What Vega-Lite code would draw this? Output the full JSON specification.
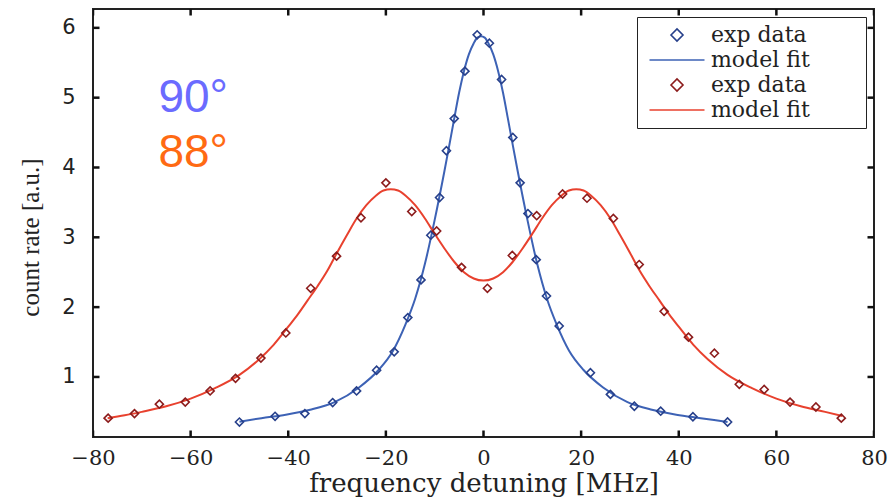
{
  "$schema": "https://vega.github.io/schema/vega-lite/v6.json",
  "width": 781,
  "height": 428,
  "autosize": "none",
  "padding": {"left": 93, "top": 9, "right": 14, "bottom": 61},
  "background": "white",
  "config": {
    "view": {"stroke": "#222222", "strokeWidth": 2},
    "axis": {"domain": false, "ticks": false, "grid": false, "labelColor": "#222222", "titleColor": "#222222", "titleFontWeight": "normal", "labelOverlap": false},
    "tick": {"thickness": 2.5, "size": 13, "color": "#111111", "opacity": 1},
    "legend": {
      "orient": "top-right",
      "offset": 8,
      "padding": 7,
      "symbolSize": 100,
      "symbolOffset": 22,
      "labelOffset": 23,
      "rowPadding": 3,
      "labelFont": "DejaVu Serif",
      "labelFontSize": 22,
      "labelColor": "#222222",
      "labelLimit": 300,
      "strokeColor": "#222222",
      "fillColor": "white",
      "symbolStrokeWidth": 1.6,
      "zindex": 2
    }
  },
  "datasets": {
    "xticks": [{"v": -80}, {"v": -60}, {"v": -40}, {"v": -20}, {"v": 0}, {"v": 20}, {"v": 40}, {"v": 60}, {"v": 80}],
    "yticks": [{"v": 1}, {"v": 2}, {"v": 3}, {"v": 4}, {"v": 5}, {"v": 6}],
    "fit": [
      {"series": "fit90", "x": -50, "y": 0.36},
      {"series": "fit90", "x": -45.5, "y": 0.41},
      {"series": "fit90", "x": -40.5, "y": 0.46},
      {"series": "fit90", "x": -35.5, "y": 0.53},
      {"series": "fit90", "x": -30.5, "y": 0.64},
      {"series": "fit90", "x": -25.5, "y": 0.85},
      {"series": "fit90", "x": -21.5, "y": 1.10},
      {"series": "fit90", "x": -18.5, "y": 1.38},
      {"series": "fit90", "x": -16, "y": 1.75},
      {"series": "fit90", "x": -14, "y": 2.12},
      {"series": "fit90", "x": -12, "y": 2.62},
      {"series": "fit90", "x": -10, "y": 3.25},
      {"series": "fit90", "x": -8, "y": 3.95},
      {"series": "fit90", "x": -7, "y": 4.32},
      {"series": "fit90", "x": -6, "y": 4.70},
      {"series": "fit90", "x": -5, "y": 5.07},
      {"series": "fit90", "x": -4, "y": 5.38},
      {"series": "fit90", "x": -3, "y": 5.62},
      {"series": "fit90", "x": -2, "y": 5.78},
      {"series": "fit90", "x": -1.25, "y": 5.86},
      {"series": "fit90", "x": -0.5, "y": 5.88},
      {"series": "fit90", "x": 0.25, "y": 5.86},
      {"series": "fit90", "x": 1, "y": 5.78},
      {"series": "fit90", "x": 2, "y": 5.62},
      {"series": "fit90", "x": 3, "y": 5.38},
      {"series": "fit90", "x": 4, "y": 5.07},
      {"series": "fit90", "x": 5, "y": 4.70},
      {"series": "fit90", "x": 6, "y": 4.32},
      {"series": "fit90", "x": 7, "y": 3.95},
      {"series": "fit90", "x": 9, "y": 3.25},
      {"series": "fit90", "x": 11, "y": 2.62},
      {"series": "fit90", "x": 13, "y": 2.12},
      {"series": "fit90", "x": 15, "y": 1.75},
      {"series": "fit90", "x": 17.5, "y": 1.38},
      {"series": "fit90", "x": 20.5, "y": 1.10},
      {"series": "fit90", "x": 24.5, "y": 0.85},
      {"series": "fit90", "x": 29.5, "y": 0.64},
      {"series": "fit90", "x": 34.5, "y": 0.53},
      {"series": "fit90", "x": 39.5, "y": 0.46},
      {"series": "fit90", "x": 44.5, "y": 0.41},
      {"series": "fit90", "x": 50, "y": 0.355},
      {"series": "fit88", "x": -77, "y": 0.41},
      {"series": "fit88", "x": -73.5, "y": 0.45},
      {"series": "fit88", "x": -70, "y": 0.50},
      {"series": "fit88", "x": -65, "y": 0.58},
      {"series": "fit88", "x": -60, "y": 0.69},
      {"series": "fit88", "x": -55, "y": 0.84},
      {"series": "fit88", "x": -50, "y": 1.03},
      {"series": "fit88", "x": -46, "y": 1.25},
      {"series": "fit88", "x": -43, "y": 1.46},
      {"series": "fit88", "x": -40, "y": 1.72},
      {"series": "fit88", "x": -38, "y": 1.90},
      {"series": "fit88", "x": -36, "y": 2.10},
      {"series": "fit88", "x": -34, "y": 2.30},
      {"series": "fit88", "x": -32, "y": 2.52},
      {"series": "fit88", "x": -30, "y": 2.78},
      {"series": "fit88", "x": -28, "y": 3.03},
      {"series": "fit88", "x": -26, "y": 3.27},
      {"series": "fit88", "x": -24, "y": 3.46},
      {"series": "fit88", "x": -22, "y": 3.60},
      {"series": "fit88", "x": -20.5, "y": 3.67},
      {"series": "fit88", "x": -19, "y": 3.69},
      {"series": "fit88", "x": -17.5, "y": 3.67},
      {"series": "fit88", "x": -16, "y": 3.60},
      {"series": "fit88", "x": -14, "y": 3.46},
      {"series": "fit88", "x": -12, "y": 3.27},
      {"series": "fit88", "x": -10, "y": 3.05},
      {"series": "fit88", "x": -8, "y": 2.84},
      {"series": "fit88", "x": -6, "y": 2.65},
      {"series": "fit88", "x": -4, "y": 2.50},
      {"series": "fit88", "x": -2, "y": 2.41},
      {"series": "fit88", "x": 0, "y": 2.38},
      {"series": "fit88", "x": 2, "y": 2.41},
      {"series": "fit88", "x": 4, "y": 2.50},
      {"series": "fit88", "x": 6, "y": 2.65},
      {"series": "fit88", "x": 8, "y": 2.84},
      {"series": "fit88", "x": 10, "y": 3.05},
      {"series": "fit88", "x": 12, "y": 3.27},
      {"series": "fit88", "x": 14, "y": 3.46},
      {"series": "fit88", "x": 16, "y": 3.60},
      {"series": "fit88", "x": 17.5, "y": 3.67},
      {"series": "fit88", "x": 19, "y": 3.69},
      {"series": "fit88", "x": 20.5, "y": 3.67},
      {"series": "fit88", "x": 22, "y": 3.60},
      {"series": "fit88", "x": 24, "y": 3.46},
      {"series": "fit88", "x": 26, "y": 3.27},
      {"series": "fit88", "x": 28, "y": 3.03},
      {"series": "fit88", "x": 30, "y": 2.78},
      {"series": "fit88", "x": 32, "y": 2.52},
      {"series": "fit88", "x": 34, "y": 2.30},
      {"series": "fit88", "x": 36, "y": 2.10},
      {"series": "fit88", "x": 38, "y": 1.90},
      {"series": "fit88", "x": 40, "y": 1.72},
      {"series": "fit88", "x": 43, "y": 1.46},
      {"series": "fit88", "x": 46, "y": 1.25},
      {"series": "fit88", "x": 50, "y": 1.03},
      {"series": "fit88", "x": 55, "y": 0.84},
      {"series": "fit88", "x": 60, "y": 0.69},
      {"series": "fit88", "x": 65, "y": 0.58},
      {"series": "fit88", "x": 70, "y": 0.50},
      {"series": "fit88", "x": 73.5, "y": 0.44}
    ],
    "exp": [
      {"series": "exp90", "x": -50, "y": 0.354},
      {"series": "exp90", "x": -42.7, "y": 0.436},
      {"series": "exp90", "x": -36.6, "y": 0.475},
      {"series": "exp90", "x": -30.9, "y": 0.633},
      {"series": "exp90", "x": -26.0, "y": 0.80},
      {"series": "exp90", "x": -21.9, "y": 1.096},
      {"series": "exp90", "x": -18.3, "y": 1.36},
      {"series": "exp90", "x": -15.5, "y": 1.85},
      {"series": "exp90", "x": -12.8, "y": 2.39},
      {"series": "exp90", "x": -10.8, "y": 3.03},
      {"series": "exp90", "x": -9.0, "y": 3.57},
      {"series": "exp90", "x": -7.6, "y": 4.24},
      {"series": "exp90", "x": -6.0, "y": 4.70},
      {"series": "exp90", "x": -3.8, "y": 5.38},
      {"series": "exp90", "x": -1.3, "y": 5.90},
      {"series": "exp90", "x": 1.2, "y": 5.78},
      {"series": "exp90", "x": 3.7, "y": 5.26},
      {"series": "exp90", "x": 6.0, "y": 4.43},
      {"series": "exp90", "x": 7.5, "y": 3.78},
      {"series": "exp90", "x": 9.1, "y": 3.34},
      {"series": "exp90", "x": 10.8, "y": 2.68},
      {"series": "exp90", "x": 12.9, "y": 2.16},
      {"series": "exp90", "x": 15.5, "y": 1.73},
      {"series": "exp90", "x": 21.9, "y": 1.06},
      {"series": "exp90", "x": 26.0, "y": 0.75},
      {"series": "exp90", "x": 30.9, "y": 0.58},
      {"series": "exp90", "x": 36.3, "y": 0.51},
      {"series": "exp90", "x": 42.9, "y": 0.43},
      {"series": "exp90", "x": 50, "y": 0.355},
      {"series": "exp88", "x": -76.9, "y": 0.41},
      {"series": "exp88", "x": -71.5, "y": 0.475},
      {"series": "exp88", "x": -66.4, "y": 0.61},
      {"series": "exp88", "x": -61.1, "y": 0.64},
      {"series": "exp88", "x": -56.0, "y": 0.80},
      {"series": "exp88", "x": -50.8, "y": 0.98},
      {"series": "exp88", "x": -45.6, "y": 1.27},
      {"series": "exp88", "x": -40.5, "y": 1.63},
      {"series": "exp88", "x": -35.4, "y": 2.27},
      {"series": "exp88", "x": -30.1, "y": 2.73},
      {"series": "exp88", "x": -25.1, "y": 3.28},
      {"series": "exp88", "x": -20.0, "y": 3.78},
      {"series": "exp88", "x": -14.7, "y": 3.37},
      {"series": "exp88", "x": -9.6, "y": 3.09},
      {"series": "exp88", "x": -4.5, "y": 2.57},
      {"series": "exp88", "x": 0.8, "y": 2.27},
      {"series": "exp88", "x": 5.9, "y": 2.74},
      {"series": "exp88", "x": 10.9, "y": 3.31},
      {"series": "exp88", "x": 16.2, "y": 3.62},
      {"series": "exp88", "x": 21.2, "y": 3.56},
      {"series": "exp88", "x": 26.6, "y": 3.27},
      {"series": "exp88", "x": 31.9, "y": 2.61},
      {"series": "exp88", "x": 37.0, "y": 1.94},
      {"series": "exp88", "x": 42.0, "y": 1.57},
      {"series": "exp88", "x": 47.3, "y": 1.34},
      {"series": "exp88", "x": 52.4, "y": 0.895},
      {"series": "exp88", "x": 57.5, "y": 0.82},
      {"series": "exp88", "x": 62.8, "y": 0.64},
      {"series": "exp88", "x": 68.1, "y": 0.57},
      {"series": "exp88", "x": 73.3, "y": 0.41}
    ],
    "ann": [
      {"label": "90°", "x": -66.6, "y": 4.80},
      {"label": "88°", "x": -66.6, "y": 4.01}
    ]
  },
  "layer": [
    {
      "data": {"name": "fit"},
      "mark": {"type": "line", "strokeWidth": 2, "interpolate": "monotone"},
      "encoding": {
        "x": {
          "field": "x", "type": "quantitative",
          "scale": {"domain": [-80, 80], "nice": false, "zero": false},
          "axis": {"orient": "bottom", "values": [-80, -60, -40, -20, 0, 20, 40, 60, 80], "title": "frequency detuning [MHz]", "labelFont": "DejaVu Serif", "labelFontSize": 21, "labelPadding": 10, "labelFlush": false, "titleFont": "DejaVu Serif", "titleFontSize": 26, "titleBaseline": "alphabetic", "titleX": 390.5, "titleY": 54}
        },
        "y": {
          "field": "y", "type": "quantitative",
          "scale": {"domain": [0.14, 6.27], "nice": false, "zero": false},
          "axis": {"orient": "left", "values": [1, 2, 3, 4, 5, 6], "format": "d", "title": "count rate [a.u.]", "labelFont": "DejaVu Sans", "labelFontSize": 21, "labelPadding": 18, "titleFont": "Liberation Serif", "titleFontSize": 25, "titleBaseline": "alphabetic", "titleAngle": 270, "titleX": -55, "titleY": 228}
        },
        "color": {
          "field": "series", "type": "nominal",
          "scale": {"domain": ["exp90", "fit90", "exp88", "fit88"], "range": ["#27408b", "#3d62b5", "#8c1c1c", "#e8412e"]},
          "legend": {"title": null, "labelFont": "DejaVu Serif", "labelFontSize": 22, "labelExpr": "indexof(datum.value, 'exp') == 0 ? 'exp data' : 'model fit\u00a0\u00a0\u00a0\u00a0\u00a0\u00a0\u00a0\u200b'"}
        }
      }
    },
    {
      "data": {"name": "exp"},
      "mark": {"type": "point", "filled": false, "size": 45, "strokeWidth": 1.6, "opacity": 1},
      "encoding": {
        "x": {"field": "x", "type": "quantitative"},
        "y": {"field": "y", "type": "quantitative"},
        "color": {
          "field": "series", "type": "nominal",
          "scale": {"domain": ["exp90", "fit90", "exp88", "fit88"], "range": ["#27408b", "#3d62b5", "#8c1c1c", "#e8412e"]},
          "legend": {"title": null, "labelFont": "DejaVu Serif", "labelFontSize": 22, "labelExpr": "indexof(datum.value, 'exp') == 0 ? 'exp data' : 'model fit\u00a0\u00a0\u00a0\u00a0\u00a0\u00a0\u00a0\u200b'"}
        },
        "shape": {
          "field": "series", "type": "nominal",
          "scale": {"domain": ["exp90", "fit90", "exp88", "fit88"], "range": ["M-1.2,0L0,-1.2L1.2,0L0,1.2Z", "M-5.5,0H5.5", "M-1.2,0L0,-1.2L1.2,0L0,1.2Z", "M-5.5,0H5.5"]},
          "legend": {"title": null, "labelFont": "DejaVu Serif", "labelFontSize": 22, "labelExpr": "indexof(datum.value, 'exp') == 0 ? 'exp data' : 'model fit\u00a0\u00a0\u00a0\u00a0\u00a0\u00a0\u00a0\u200b'"}
        }
      }
    },
    {
      "data": {"name": "xticks"},
      "mark": {"type": "tick", "orient": "vertical", "clip": true},
      "encoding": {
        "x": {"field": "v", "type": "quantitative"},
        "y": {"datum": 0.14, "type": "quantitative"}
      }
    },
    {
      "data": {"name": "xticks"},
      "mark": {"type": "tick", "orient": "vertical", "clip": true},
      "encoding": {
        "x": {"field": "v", "type": "quantitative"},
        "y": {"datum": 6.27, "type": "quantitative"}
      }
    },
    {
      "data": {"name": "yticks"},
      "mark": {"type": "tick", "orient": "horizontal", "clip": true},
      "encoding": {
        "y": {"field": "v", "type": "quantitative"},
        "x": {"datum": -80, "type": "quantitative"}
      }
    },
    {
      "data": {"name": "yticks"},
      "mark": {"type": "tick", "orient": "horizontal", "clip": true},
      "encoding": {
        "y": {"field": "v", "type": "quantitative"},
        "x": {"datum": 80, "type": "quantitative"}
      }
    },
    {
      "data": {"name": "ann"},
      "transform": [{"filter": "datum.label == '90°'"}],
      "mark": {"type": "text", "font": "Liberation Sans", "fontSize": 46, "align": "left", "baseline": "alphabetic", "color": "#6b6bff"},
      "encoding": {
        "x": {"field": "x", "type": "quantitative"},
        "y": {"field": "y", "type": "quantitative"},
        "text": {"field": "label"}
      }
    },
    {
      "data": {"name": "ann"},
      "transform": [{"filter": "datum.label == '88°'"}],
      "mark": {"type": "text", "font": "Liberation Sans", "fontSize": 46, "align": "left", "baseline": "alphabetic", "color": "#ff6a13"},
      "encoding": {
        "x": {"field": "x", "type": "quantitative"},
        "y": {"field": "y", "type": "quantitative"},
        "text": {"field": "label"}
      }
    }
  ]
}
